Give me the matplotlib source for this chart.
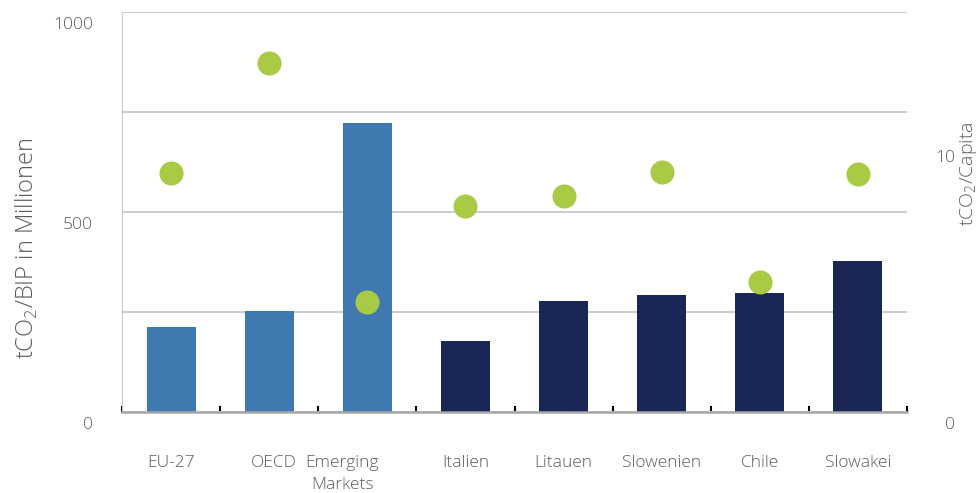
import matplotlib
matplotlib.use("Agg")
import matplotlib.pyplot as plt
import numpy as np
from matplotlib.transforms import ScaledTranslation

# data
categories = ["EU-27", "OECD", "Emerging\nMarkets", "Italien", "Litauen",
              "Slowenien", "Chile", "Slowakei"]
co2_per_gdp = [213, 252, 722, 177, 277, 292, 297, 377]
co2_per_capita = [8.95, 13.1, 4.14, 7.74, 8.11, 9.01, 4.89, 8.94]
bar_colors = ["#3f79b0", "#3f79b0", "#3f79b0", "#1a2656", "#1a2656",
              "#1a2656", "#1a2656", "#1a2656"]
left_ticks = [0, 500, 1000]
right_ticks = [0, 10]

plt.rcParams["font.family"] = ["Open Sans", "DejaVu Sans"]
plt.rcParams["font.weight"] = "light"
plt.rcParams["mathtext.fontset"] = "custom"
plt.rcParams["mathtext.rm"] = "Open Sans:light"
text_color = "#5c5c5c"

fig = plt.figure(figsize=(9.8, 4.93), dpi=100)
ax = fig.add_axes([122 / 980, 81 / 493, 785 / 980, 400 / 493])
ax2 = ax.twinx()

x = np.arange(len(categories))
ax.bar(x, co2_per_gdp, width=0.5, color=bar_colors, zorder=2)
ax2.scatter(x, co2_per_capita, s=300, color="#a8ca45", zorder=3, linewidths=0)

ax.set_xlim(-0.5, len(categories) - 0.5)
ax.set_ylim(0, 1000)
ax2.set_ylim(0, 15)

# gridlines every 250, labels only every 500
ax.set_axisbelow(True)
ax.set_yticks(left_ticks)
ax.set_yticks([250, 750], minor=True)
ax.yaxis.grid(True, which="both", color="#c8c8c8", linewidth=1.3)
ax.tick_params(axis="y", which="both", length=0, pad=21, labelsize=12.5, labelcolor=text_color)
ax2.set_yticks(right_ticks)
ax2.tick_params(axis="y", length=0, pad=34.5, labelsize=12.5, labelcolor=text_color)
for lbl in ax2.get_yticklabels():
    lbl.set_horizontalalignment("right")

# labels sit a little below their gridline
shift = ScaledTranslation(0, -11 / 100, fig.dpi_scale_trans)
for lbl in ax.get_yticklabels() + ax2.get_yticklabels():
    lbl.set_transform(lbl.get_transform() + shift)

# x axis: boundary ticks, labels centred on bars
ax.set_xticks(np.arange(-0.5, len(categories)))
ax.set_xticklabels([])
ax.tick_params(axis="x", which="major", direction="in", length=4, width=1.5, color="black")
ax.set_xticks(x, minor=True)
ax.set_xticklabels(categories, minor=True, linespacing=1.5)
ax.tick_params(axis="x", which="minor", length=0, pad=31, labelsize=12.5, labelcolor=text_color)
x_shift = {1: 5, 2: -25}
for i, lbl in enumerate(ax.get_xticklabels(minor=True)):
    if i in x_shift:
        lbl.set_transform(lbl.get_transform() + ScaledTranslation(x_shift[i] / 100, 0, fig.dpi_scale_trans))

for s in ["top", "right"]:
    ax.spines[s].set_visible(False)
    ax2.spines[s].set_visible(False)
ax2.spines["left"].set_visible(False)
ax2.spines["bottom"].set_visible(False)
ax.spines["left"].set_color("#c8c8c8")
ax.spines["bottom"].set_color("#a8a8a8")
ax.spines["bottom"].set_linewidth(1.8)

fig.text(27 / 980, 1 - 248 / 493, r"tCO$_{2}$/BIP in Millionen", rotation=90,
         ha="center", va="center", fontsize=17, color=text_color)
fig.text(968.5 / 980, 1 - 174 / 493, r"tCO$_{2}$/Capita", rotation=90,
         ha="center", va="center", fontsize=14, color=text_color)

fig.savefig("out.png", dpi=100)
